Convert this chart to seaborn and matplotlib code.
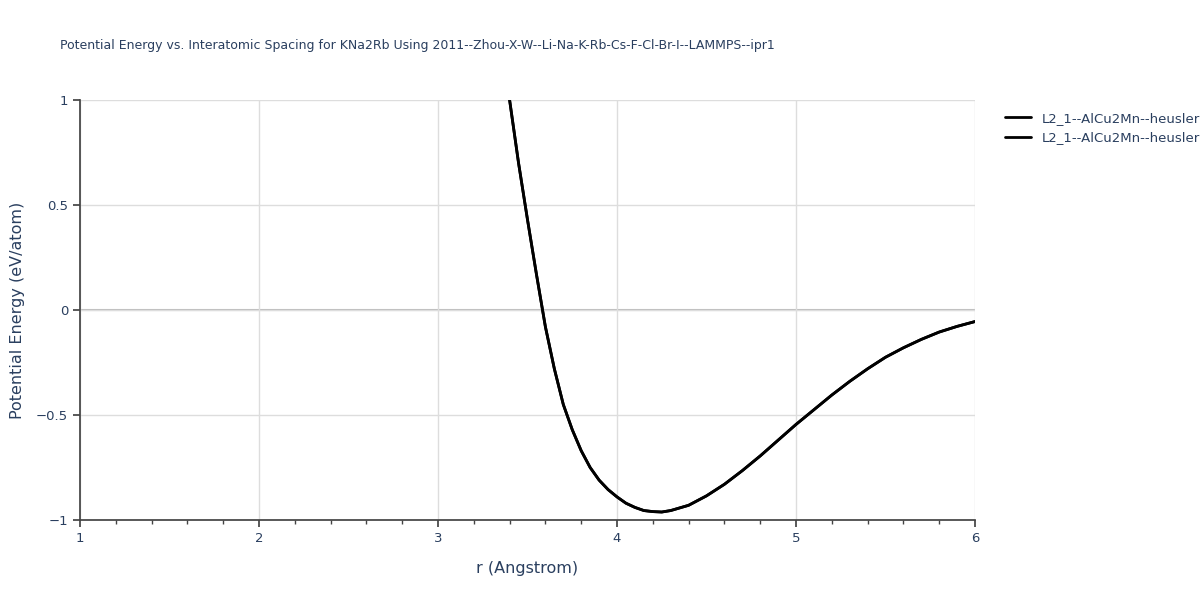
import matplotlib
matplotlib.use("Agg")
import matplotlib.pyplot as plt
import seaborn as sns
import pandas as pd
import numpy as np

r = [3.4, 3.45, 3.5, 3.55, 3.6, 3.65, 3.7, 3.75, 3.8, 3.85, 3.9, 3.95, 4.0, 4.05, 4.1, 4.15, 4.2, 4.25, 4.3, 4.4, 4.5, 4.6, 4.7, 4.8, 4.9, 5.0, 5.1, 5.2, 5.3, 5.4, 5.5, 5.6, 5.7, 5.8, 5.9, 6.0]
energy = [1.0, 0.7, 0.43, 0.17, -0.08, -0.28, -0.45, -0.57, -0.67, -0.75, -0.81, -0.855, -0.89, -0.92, -0.94, -0.955, -0.96, -0.962, -0.955, -0.93, -0.885, -0.83, -0.765, -0.695, -0.62, -0.545, -0.475, -0.405, -0.34, -0.28, -0.225, -0.18, -0.14, -0.105, -0.078, -0.055]
labels = ["L2_1--AlCu2Mn--heusler", "L2_1--AlCu2Mn--heusler"]

sns.set_theme(style="white")
plt.rcParams['font.family'] = ['DejaVu Sans']
fig = plt.figure(figsize=(12, 6), dpi=100)
ax = fig.add_axes([80/1200, 80/600, 895/1200, 420/600])
df = pd.DataFrame({"r": r, "E": energy})
for lab in labels:
    sns.lineplot(data=df, x="r", y="E", ax=ax, color="black", linewidth=2, label=lab)
ax.set_xlim(1, 6)
ax.set_ylim(-1, 1)
ax.set_xticks([1, 2, 3, 4, 5, 6])
ax.set_xticks(np.arange(1, 6.01, 0.2), minor=True)
ax.set_yticks([-1, -0.5, 0, 0.5, 1])
ax.set_yticklabels(["−1", "−0.5", "0", "0.5", "1"])
ax.grid(True, color="#dddddd", linewidth=1)
ax.axhline(0, color="#bbbbbb", linewidth=1.5, zorder=0)
for s in ["top", "right"]:
    ax.spines[s].set_visible(False)
for s in ["left", "bottom"]:
    ax.spines[s].set_color("#444444")
ax.tick_params(axis="both", colors="#444444", labelcolor="#2a3f5f", labelsize=9.5, length=5, direction="out", left=True, bottom=True)
ax.tick_params(axis="x", which="minor", length=3, bottom=True, colors="#444444")
ax.set_xlabel("r (Angstrom)", color="#2a3f5f", fontsize=11.5, labelpad=12)
ax.set_ylabel("Potential Energy (eV/atom)", color="#2a3f5f", fontsize=11.5, labelpad=8)
fig.text(60/1200, 1 - 46/600, "Potential Energy vs. Interatomic Spacing for KNa2Rb Using 2011--Zhou-X-W--Li-Na-K-Rb-Cs-F-Cl-Br-I--LAMMPS--ipr1",
         fontsize=9, color="#2a3f5f", va="center")
ax.legend(loc="upper left", bbox_to_anchor=(1.02, 1.0), frameon=False, fontsize=9.5, labelcolor="#2a3f5f", handlelength=2)
fig.savefig("out.png", dpi=100)
